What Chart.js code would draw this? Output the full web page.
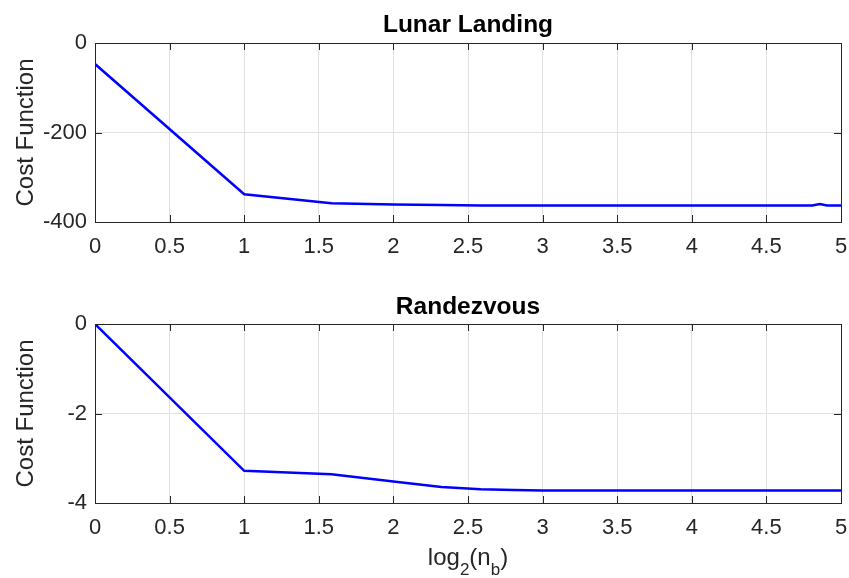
<!DOCTYPE html>
<html><head><meta charset="utf-8">
<script src="https://cdn.jsdelivr.net/npm/chart.js@4"></script>
<style>
html,body{margin:0;padding:0;background:#fff;width:849px;height:578px;overflow:hidden}
canvas{position:absolute;left:0}
#c1{top:0}
#c2{top:281px}
</style></head><body>
<canvas id="c1" width="849" height="262" style="width:849px;height:262px"></canvas>
<canvas id="c2" width="849" height="297" style="width:849px;height:297px"></canvas>
<script>
// ---- data ----
const nb = [1,2,3,4,5,6,7,8,9,10,11,12,13,14,15,16,17,18,19,20,21,22,23,24,25,26,27,28,29,30,31,32];
const lunarCost = [-47,-338,-358,-361,-362,-363,-363,-363,-363,-363,-363,-363,-363,-363,-363,-363,
                   -363,-363,-363,-363,-363,-363,-363,-363,-363,-363,-363,-363,-360,-363,-363,-363];
const rendezvousCost = [0,-3.28,-3.36,-3.52,-3.645,-3.69,-3.71,-3.72,-3.72,-3.72,-3.72,-3.72,-3.72,-3.72,-3.72,-3.72,
                        -3.72,-3.72,-3.72,-3.72,-3.72,-3.72,-3.72,-3.72,-3.72,-3.72,-3.72,-3.72,-3.72,-3.72,-3.72,-3.72];
const xTickValues = [0,0.5,1,1.5,2,2.5,3,3.5,4,4.5,5];
const lunarYTicks = [-400,-200,0];
const rendezvousYTicks = [-4,-2,0];
const titles = ['Lunar Landing','Randezvous'];
const yAxisLabel = 'Cost Function';

const FONT = "'Liberation Sans', Arial, Helvetica, sans-serif";
const AXC = '#262626';
const GRIDC = '#e0e0e0';

const boxPlugin = {
  id: 'matlabBox',
  afterDraw(chart) {
    const {ctx, chartArea: a, scales} = chart;
    ctx.save();
    ctx.strokeStyle = AXC;
    ctx.lineWidth = 1;
    ctx.beginPath();
    const L = 7;
    scales.x.ticks.forEach(t => {
      const px = Math.round(scales.x.getPixelForValue(t.value)) + 0.5;
      ctx.moveTo(px, a.bottom); ctx.lineTo(px, a.bottom - L);
      ctx.moveTo(px, a.top); ctx.lineTo(px, a.top + L);
    });
    scales.y.ticks.forEach(t => {
      const py = Math.round(scales.y.getPixelForValue(t.value)) + 0.5;
      ctx.moveTo(a.left, py); ctx.lineTo(a.left + L, py);
      ctx.moveTo(a.right, py); ctx.lineTo(a.right - L, py);
    });
    ctx.stroke();
    ctx.strokeRect(Math.round(a.left) + 0.5, Math.round(a.top) + 0.5,
                   Math.round(a.right - a.left), Math.round(a.bottom - a.top));
    ctx.restore();
  }
};

const xLabelPlugin = {
  id: 'xLabelSub',
  afterDraw(chart, args, opts) {
    if (!opts || !opts.show) return;
    const {ctx, chartArea: a} = chart;
    const parts = [['log', 0], ['2', 1], ['(n', 0], ['b', 1], [')', 0]];
    const big = '24px ' + FONT, small = '17px ' + FONT;
    ctx.save();
    ctx.fillStyle = AXC;
    ctx.textBaseline = 'alphabetic';
    ctx.textAlign = 'left';
    let w = 0;
    parts.forEach(p => { ctx.font = p[1] ? small : big; w += ctx.measureText(p[0]).width; });
    let x = (a.left + a.right) / 2 - w / 2;
    const base = opts.baseline;
    parts.forEach(p => {
      ctx.font = p[1] ? small : big;
      ctx.fillText(p[0], x, p[1] ? base + 10 : base);
      x += ctx.measureText(p[0]).width;
    });
    ctx.restore();
  }
};

function makeChart(id, values, yTicks, title, canvasH, titlePad, xLabel) {
  const pts = nb.map((n, i) => ({x: Math.log2(n), y: values[i]}));
  return new Chart(document.getElementById(id), {
    type: 'line',
    data: { datasets: [{ data: pts, borderColor: '#0000ff', borderWidth: 2.5,
      pointRadius: 0, fill: false, tension: 0 }] },
    options: {
      responsive: false, animation: false, devicePixelRatio: 1,
      layout: { padding: { left: 0, right: 8, top: 0, bottom: 0 } },
      plugins: {
        legend: { display: false }, tooltip: { enabled: false },
        title: { display: true, text: title, color: '#000', fullSize: false,
          font: { family: FONT, size: 24.5, weight: 'bold' },
          padding: titlePad },
        xLabelSub: xLabel
      },
      scales: {
        x: {
          type: 'linear', min: xTickValues[0], max: xTickValues[xTickValues.length - 1],
          afterBuildTicks: s => { s.ticks = xTickValues.map(v => ({value: v})); },
          afterFit: s => { s.height = canvasH - 222; s.paddingLeft = 0; s.paddingRight = 0; },
          ticks: { autoSkip: false, maxRotation: 0, padding: 12, color: AXC,
            font: { family: FONT, size: 22 }, callback: v => String(v) },
          grid: { color: GRIDC, drawTicks: false }, border: { display: false }
        },
        y: {
          type: 'linear', min: yTicks[0], max: yTicks[yTicks.length - 1],
          afterBuildTicks: s => { s.ticks = yTicks.map(v => ({value: v})); },
          afterFit: s => { s.width = 95; s.paddingTop = 0; s.paddingBottom = 0; },
          ticks: { padding: 8, color: AXC, font: { family: FONT, size: 22 },
            callback: v => String(v) },
          grid: { color: GRIDC, drawTicks: false }, border: { display: false },
          title: { display: true, text: yAxisLabel, color: AXC,
            font: { family: FONT, size: 24 }, padding: { top: 11.5, bottom: 0 } }
        }
      }
    },
    plugins: [boxPlugin, xLabelPlugin]
  });
}

makeChart('c1', lunarCost, lunarYTicks, titles[0], 262, { top: 11, bottom: 2.6 }, { show: false });
makeChart('c2', rendezvousCost, rendezvousYTicks, titles[1], 297, { top: 12, bottom: 1.6 }, { show: true, baseline: 284 });
</script>
</body></html>
